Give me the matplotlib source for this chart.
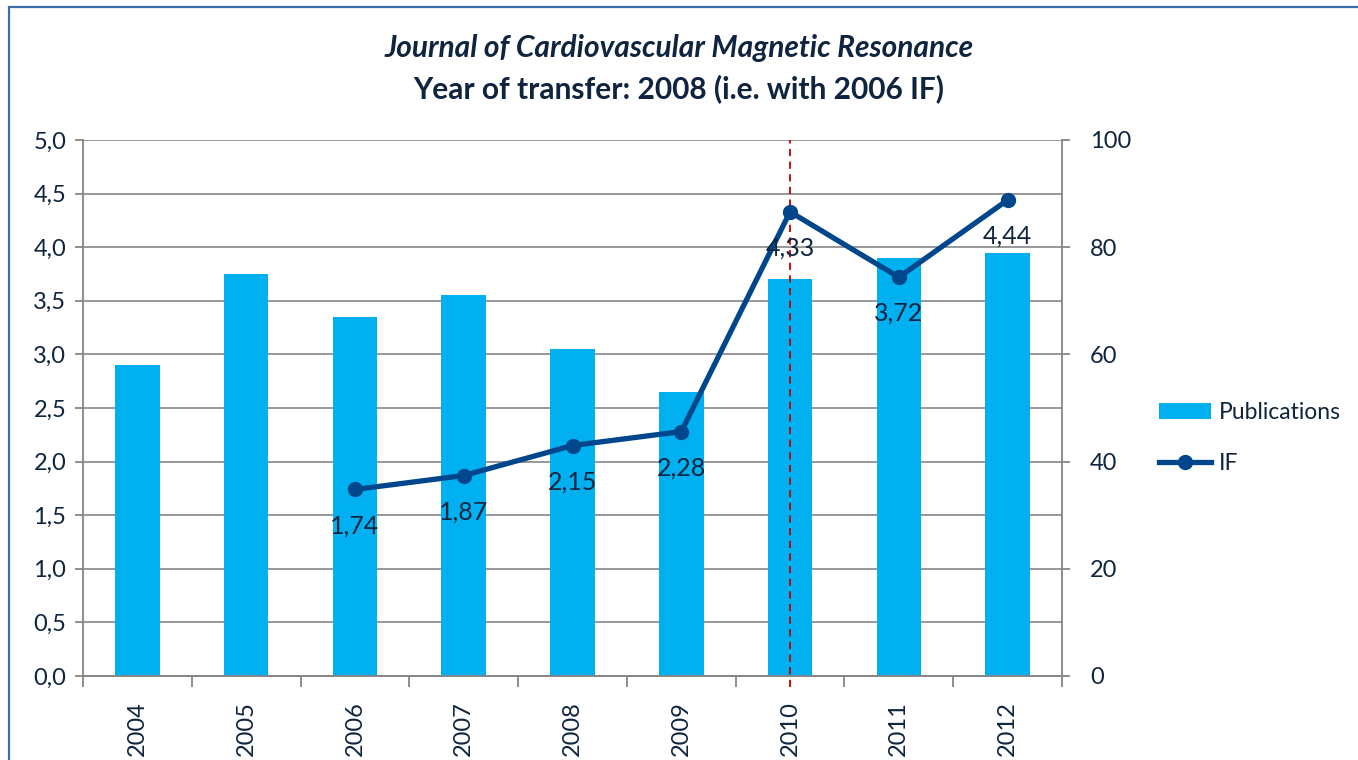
import matplotlib
matplotlib.use("Agg")
import matplotlib.pyplot as plt
from matplotlib.patches import Rectangle
from matplotlib.ticker import FixedLocator

plt.rcParams['font.family'] = ['Lato', 'DejaVu Sans']

years = ['2004', '2005', '2006', '2007', '2008', '2009', '2010', '2011', '2012']
publications = [58, 75, 67, 71, 61, 53, 74, 78, 79]
if_years = ['2006', '2007', '2008', '2009', '2010', '2011', '2012']
if_values = [1.74, 1.87, 2.15, 2.28, 4.33, 3.72, 4.44]
if_labels = ['1,74', '1,87', '2,15', '2,28', '4,33', '3,72', '4,44']
left_ticks = [0.0, 0.5, 1.0, 1.5, 2.0, 2.5, 3.0, 3.5, 4.0, 4.5, 5.0]
left_ticklabels = ['0,0', '0,5', '1,0', '1,5', '2,0', '2,5', '3,0', '3,5', '4,0', '4,5', '5,0']
right_ticks = [0, 20, 40, 60, 80, 100]
transfer_year = '2010'

TEXT = '#0F243E'
GRAY = '#868686'
BAR = '#00B0F0'
LINE = '#00468C'

fig = plt.figure(figsize=(13.58, 7.6), dpi=100)
ax2 = fig.add_axes([83/1358, 1-676/760, (1062-83)/1358, (676-140)/760])
ax = ax2.twinx()
ax.yaxis.tick_left()
ax2.yaxis.tick_right()
ax.set_zorder(ax2.get_zorder() + 1)
ax.patch.set_visible(False)

x = list(range(len(years)))
bars = ax2.bar(x, publications, width=0.41, color=BAR, zorder=3, label='Publications')
ax2.set_ylim(0, 100)
ax2.set_xlim(-0.5, len(years) - 0.5)
ax2.set_yticks(right_ticks)
ax2.set_yticklabels([str(t) for t in right_ticks])
ax2.yaxis.set_minor_locator(FixedLocator([t * 20 for t in left_ticks]))
ax2.grid(True, axis='y', which='both', color=GRAY, linewidth=1.2, zorder=0)
ax2.tick_params(axis='y', which='minor', length=0)
ax2.set_axisbelow(True)

xi = [years.index(y) for y in if_years]
ax.plot([years.index(transfer_year)] * 2, [-0.1, 5], color='#C00000', linestyle=(0, (4, 3)),
        linewidth=1.3, zorder=2, clip_on=False)
line, = ax.plot(xi, if_values, color=LINE, linewidth=3.8, marker='o', markersize=10, zorder=4, label='IF')
for xv, v, lab in zip(xi, if_values, if_labels):
    ax.annotate(lab, (xv, v), xytext=(0, -26), textcoords='offset points', ha='center', va='center',
                fontsize=18, color=TEXT, zorder=5)
ax.set_ylim(0, 5)
ax.set_yticks(left_ticks)
ax.set_yticklabels(left_ticklabels)

for a in (ax, ax2):
    a.spines['top'].set_visible(False)
    for s in ('left', 'right', 'bottom'):
        a.spines[s].set_color(GRAY)
        a.spines[s].set_linewidth(1.3)
ax.spines['right'].set_visible(False)
ax2.spines['left'].set_visible(False)

ax.tick_params(axis='y', direction='out', length=6, width=1.3, color=GRAY, labelsize=17, labelcolor=TEXT, pad=6)
ax2.tick_params(axis='y', which='major', direction='out', length=6, width=1.3, color=GRAY, labelsize=17,
                labelcolor=TEXT, pad=14)

# x axis: category labels centered, tick marks at boundaries
ax2.set_xticks(x)
ax2.set_xticklabels(years, rotation=90, fontsize=17, color=TEXT)
ax2.tick_params(axis='x', which='major', length=0, pad=18)
ax2.set_xticks([i - 0.5 for i in range(len(years) + 1)], minor=True)
ax2.tick_params(axis='x', which='minor', direction='out', length=8, width=1.3, color=GRAY)

fig.text(0.5, 1 - 48/760, 'Journal of Cardiovascular Magnetic Resonance', ha='center', va='center',
         fontsize=21.5, fontstyle='italic', fontweight='bold', color=TEXT)
fig.text(0.5, 1 - 89/760, 'Year of transfer: 2008 (i.e. with 2006 IF)', ha='center', va='center',
         fontsize=21.5, fontweight='bold', color=TEXT)

fig.legend([bars, line], ['Publications', 'IF'], loc='center left', bbox_to_anchor=(1138/1358, 1 - 438/760),
           frameon=False, fontsize=16.5, labelcolor=TEXT, handlelength=2.3, handletextpad=0.35, labelspacing=1.3)

fig.patches.append(Rectangle((9/1358, -0.05), 1.2, 1 - 7/760 + 0.05, transform=fig.transFigure,
                             fill=False, edgecolor='#3E6FA8', linewidth=1.6, zorder=10))

fig.savefig('out.png', dpi=100)
